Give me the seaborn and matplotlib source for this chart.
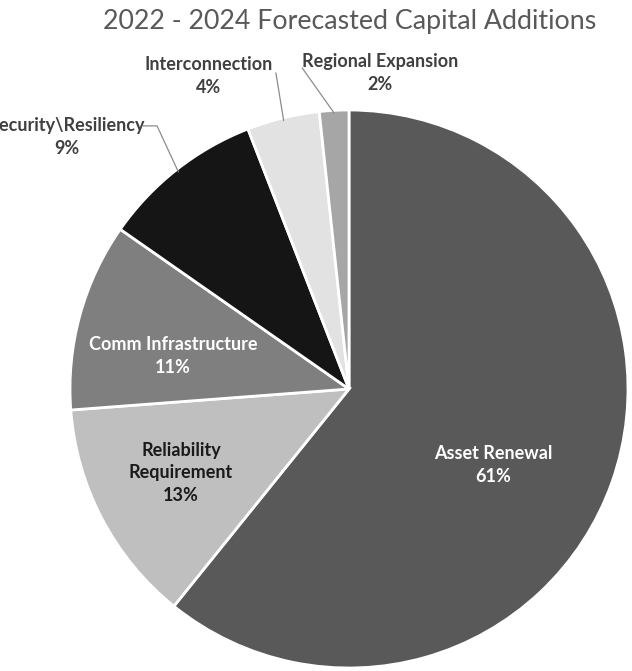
import numpy as np
import matplotlib
matplotlib.use("Agg")
import matplotlib.pyplot as plt
import seaborn as sns

categories = ["Asset Renewal", "Reliability\nRequirement", "Comm Infrastructure",
              "Security\\Resiliency", "Interconnection", "Regional Expansion"]
values = [60.8, 13.0, 10.9, 9.4, 4.2, 1.7]
colors = ["#595959", "#bfbfbf", "#7f7f7f", "#151515", "#e2e2e2", "#a6a6a6"]
text_colors = ["white", "#1a1a1a", "white", "#404040", "#404040", "#404040"]
title = "2022 - 2024 Forecasted Capital Additions"

# label anchor positions (data units, pie radius = 1)
label_pos = [(0.516, -0.272), (-0.602, -0.301), (-0.631, 0.118),
             (-1.011, 0.903), (-0.502, 1.122), (0.111, 1.133)]
# leader line start (near label), None for inside labels
leader_start = [None, None, None, [(-0.738, 0.943), (-0.688, 0.943)],
                [(-0.262, 1.133)], [(-0.168, 1.151)]]

sns.set_theme(style="white")
plt.rcParams["font.family"] = ["Lato", "DejaVu Sans"]

fig = plt.figure(figsize=(6.32, 6.71), dpi=100)
fig.patch.set_facecolor("white")
ax = fig.add_axes([70 / 632, 3 / 671, 558 / 632, 558 / 671])
wedges, _ = ax.pie(values, colors=colors, startangle=90, counterclock=False,
                   radius=1.0,
                   wedgeprops=dict(edgecolor="white", linewidth=2))
ax.set_xlim(-1, 1)
ax.set_ylim(-1, 1)
ax.set_aspect("equal")
ax.axis("off")

for i, w in enumerate(wedges):
    x, y = label_pos[i]
    txt = f"{categories[i]}\n{round(values[i]):d}%"
    ax.text(x, y, txt, ha="center", va="center", fontsize=13,
            fontweight="bold", color=text_colors[i], linespacing=1.42,
            clip_on=False)
    if leader_start[i] is not None:
        mid = np.deg2rad((w.theta1 + w.theta2) / 2)
        end = (0.99 * np.cos(mid), 0.99 * np.sin(mid))
        pts = leader_start[i] + [end]
        xs = [p[0] for p in pts]
        ys = [p[1] for p in pts]
        ax.plot(xs, ys, color="#8c8c8c", lw=0.9, clip_on=False)

fig.text(350 / 632, 1 - 21 / 671, title, ha="center", va="center",
         fontsize=19.3, color="#595959")

fig.savefig("out.png", dpi=100)
